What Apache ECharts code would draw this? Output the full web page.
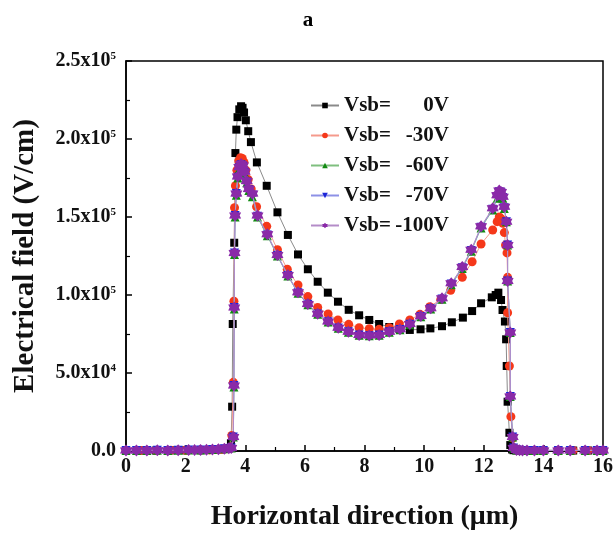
<!DOCTYPE html>
<html>
<head>
<meta charset="utf-8">
<script src="https://cdn.jsdelivr.net/npm/echarts@6/dist/echarts.min.js"></script>
<style>html,body{margin:0;padding:0;background:#fff}#c{width:616px;height:539px}</style>
</head>
<body>
<div id="c"></div>
<script>
// Values in units of 1e5 V/cm, x in µm
const seriesNames = ['Vsb=    0V', 'Vsb=  -30V', 'Vsb=  -60V', 'Vsb=  -70V', 'Vsb= -100V'];
const vsbValues = ['0V', '-30V', '-60V', '-70V', '-100V'];
const yTickMant = ['0.0', '5.0x10', '1.0x10', '1.5x10', '2.0x10', '2.5x10'];
const yTickExp = ['', '4', '5', '5', '5', '5'];

const vsb0 = [[0,0.003],[0.5,0.003],[1,0.003],[1.5,0.004],[2,0.004],[2.5,0.005],[2.8,0.006],[3.0,0.008],[3.2,0.01],[3.35,0.013],[3.45,0.018],[3.52,0.05],
 [3.56,0.284],[3.58,0.814],[3.63,1.335],[3.67,1.91],[3.7,2.06],[3.74,2.14],[3.8,2.19],[3.86,2.21],[3.91,2.2],[3.96,2.17],[4.02,2.12],[4.1,2.05],[4.19,1.98],
 [4.39,1.85],[4.72,1.70],[5.08,1.53],[5.43,1.385],[5.77,1.26],[6.1,1.165],[6.43,1.085],[6.77,1.015],[7.11,0.957],[7.47,0.905],[7.82,0.87],[8.16,0.84],
 [8.49,0.814],[8.83,0.795],[9.17,0.783],[9.52,0.776],[9.88,0.78],[10.21,0.786],[10.6,0.80],[10.93,0.825],[11.3,0.855],[11.61,0.897],[11.91,0.947],
 [12.27,0.985],[12.4,1.0],[12.49,1.015],[12.58,0.968],[12.63,0.904],[12.71,0.83],[12.75,0.716],[12.77,0.545],[12.8,0.316],[12.86,0.117],[12.89,0.038],
 [12.95,0.01],[13.0,0.005],[13.1,0.004],[13.25,0.003],[13.5,0.003],[14,0.003],[14.5,0.003],[15,0.003],[15.5,0.003],[16,0.003]];

const vsb30 = [[0,0.004],[0.5,0.004],[1,0.004],[1.5,0.005],[2,0.005],[2.5,0.006],[2.8,0.007],[3.0,0.009],[3.2,0.011],[3.35,0.014],[3.45,0.02],[3.55,0.1],
 [3.6,0.44],[3.62,0.96],[3.64,1.56],[3.67,1.70],[3.72,1.80],[3.78,1.86],[3.84,1.88],[3.9,1.875],[3.96,1.85],[4.02,1.80],[4.1,1.74],[4.2,1.68],
 [4.38,1.566],[4.72,1.44],[5.08,1.29],[5.41,1.165],[5.77,1.064],[6.1,0.99],[6.43,0.92],[6.78,0.878],[7.11,0.84],[7.47,0.812],[7.82,0.79],[8.16,0.784],
 [8.49,0.78],[8.83,0.79],[9.17,0.814],[9.52,0.84],[9.86,0.876],[10.19,0.925],[10.56,0.972],[10.89,1.03],[11.28,1.113],[11.61,1.213],[11.91,1.327],
 [12.3,1.417],[12.45,1.47],[12.52,1.50],[12.58,1.49],[12.64,1.46],[12.69,1.40],[12.73,1.32],[12.78,1.27],[12.8,1.113],[12.8,0.886],[12.86,0.545],
 [12.91,0.22],[12.97,0.083],[13.02,0.02],[13.1,0.006],[13.2,0.005],[13.35,0.004],[13.5,0.004],[14,0.004],[14.5,0.004],[15,0.004],[15.5,0.004],[16,0.004]];

const vsb60 = [[0,0.004],[0.35,0.004],[0.7,0.004],[1.05,0.005],[1.4,0.004],[1.75,0.005],[2.1,0.006],[2.5,0.007],[2.9,0.01],[3.3,0.015],[3.53,0.02],
 [3.6,0.09],[3.62,0.41],[3.63,0.91],[3.64,1.26],[3.66,1.50],[3.7,1.64],[3.75,1.75],[3.8,1.81],[3.86,1.83],[3.92,1.82],[3.98,1.78],[4.05,1.72],[4.12,1.67],
 [4.24,1.63],[4.41,1.50],[4.74,1.38],[5.08,1.25],[5.43,1.122],[5.77,1.012],[6.1,0.938],[6.43,0.877],[6.78,0.827],[7.12,0.787],[7.46,0.762],[7.82,0.742],
 [8.16,0.738],[8.49,0.742],[8.83,0.762],[9.19,0.777],[9.52,0.81],[9.89,0.86],[10.22,0.91],[10.6,0.972],[10.91,1.065],[11.28,1.17],[11.58,1.28],[11.91,1.43],
 [12.3,1.545],[12.45,1.62],[12.52,1.655],[12.58,1.65],[12.64,1.62],[12.69,1.555],[12.76,1.47],[12.8,1.32],[12.8,1.09],[12.89,0.76],[12.89,0.35],[12.97,0.09],
 [13.0,0.02],[13.1,0.006],[13.2,0.005],[13.3,0.004],[13.45,0.004],[13.7,0.004],[14.0,0.004],[14.5,0.004],[14.9,0.004],[15.4,0.004],[15.8,0.004],[16,0.004]];

const vsb70 = [[0,0.004],[0.35,0.004],[0.7,0.004],[1.05,0.005],[1.4,0.004],[1.75,0.005],[2.1,0.006],[2.5,0.007],[2.9,0.01],[3.3,0.015],[3.53,0.02],
 [3.6,0.09],[3.62,0.42],[3.63,0.92],[3.64,1.27],[3.66,1.51],[3.7,1.65],[3.75,1.755],[3.8,1.815],[3.86,1.835],[3.92,1.825],[3.98,1.785],[4.05,1.725],[4.12,1.675],
 [4.24,1.64],[4.41,1.505],[4.74,1.385],[5.08,1.253],[5.43,1.125],[5.77,1.015],[6.1,0.94],[6.43,0.879],[6.78,0.829],[7.12,0.789],[7.46,0.764],[7.82,0.743],
 [8.16,0.739],[8.49,0.743],[8.83,0.764],[9.19,0.779],[9.52,0.812],[9.89,0.862],[10.22,0.912],[10.6,0.975],[10.91,1.07],[11.28,1.175],[11.58,1.285],[11.91,1.435],
 [12.3,1.55],[12.45,1.63],[12.52,1.662],[12.58,1.655],[12.64,1.625],[12.69,1.56],[12.76,1.47],[12.8,1.32],[12.8,1.09],[12.89,0.76],[12.89,0.35],[12.97,0.09],
 [13.0,0.02],[13.1,0.006],[13.2,0.005],[13.3,0.004],[13.45,0.004],[13.7,0.004],[14.0,0.004],[14.5,0.004],[14.9,0.004],[15.4,0.004],[15.8,0.004],[16,0.004]];

const vsb100 = [[0,0.004],[0.35,0.004],[0.7,0.004],[1.05,0.005],[1.4,0.004],[1.75,0.005],[2.1,0.006],[2.3,0.006],[2.5,0.007],[2.7,0.008],[2.9,0.01],
 [3.1,0.012],[3.3,0.015],[3.45,0.018],[3.53,0.02],
 [3.6,0.09],[3.62,0.42],[3.63,0.92],[3.64,1.27],[3.66,1.51],[3.7,1.65],[3.75,1.76],[3.8,1.82],[3.86,1.84],[3.92,1.83],[3.98,1.79],[4.05,1.73],[4.12,1.68],
 [4.24,1.65],[4.41,1.51],[4.74,1.39],[5.08,1.256],[5.43,1.128],[5.77,1.017],[6.1,0.942],[6.43,0.88],[6.78,0.83],[7.12,0.79],[7.46,0.765],[7.82,0.744],
 [8.16,0.74],[8.49,0.744],[8.83,0.765],[9.19,0.78],[9.52,0.814],[9.89,0.865],[10.22,0.915],[10.6,0.979],[10.91,1.075],[11.28,1.18],[11.58,1.29],[11.91,1.44],
 [12.3,1.556],[12.45,1.64],[12.52,1.67],[12.58,1.66],[12.64,1.63],[12.69,1.566],[12.76,1.47],[12.8,1.32],[12.8,1.09],[12.89,0.76],[12.89,0.35],[12.97,0.09],
 [13.0,0.02],[13.1,0.006],[13.2,0.005],[13.3,0.004],[13.45,0.004],[13.7,0.004],[14.0,0.004],[14.5,0.004],[14.9,0.004],[15.4,0.004],[15.8,0.004],[16,0.004]];

const seriesData = [vsb0, vsb30, vsb60, vsb70, vsb100];
const markColors = ['#000000', '#f5381a', '#118a11', '#1c25d8', '#8a2aa8'];
const lineColors = ['#8a8a8a', '#f59a8c', '#7fbf7f', '#8d91e6', '#b48cc8'];
const hexagram = 'path://M0,-10 L3.4,-5.5 L8.66,-5 L6.6,0 L8.66,5 L3.4,5.5 L0,10 L-3.4,5.5 L-8.66,5 L-6.6,0 L-8.66,-5 L-3.4,-5.5 Z';
const symbols = ['rect', 'circle', 'triangle', 'path://M-10,-8 L10,-8 L0,9 Z', hexagram];
const symbolSizes = [8, 9, 9, 9, 12];

const FONT = '"Liberation Serif", "Times New Roman", serif';
const chart = echarts.init(document.getElementById('c'), null, {renderer: 'canvas'});

const option = {
  backgroundColor: '#fff',
  animation: false,
  title: {
    text: 'a', left: 'center', top: 5,
    textStyle: {fontFamily: FONT, fontWeight: 'bold', fontSize: 21, color: '#000'}
  },
  grid: {left: 126, right: 10, top: 61, bottom: 88, show: true, borderColor: '#000', borderWidth: 1.5},
  legend: {
    left: 305, top: 90, orient: 'vertical', itemGap: 9, itemWidth: 28, itemHeight: 7,
    data: seriesNames,
    formatter: function (name) {
      const i = seriesNames.indexOf(name);
      return '{a|Vsb=}{b|' + vsbValues[i] + '}';
    },
    textStyle: {
      fontFamily: FONT, fontWeight: 'bold', fontSize: 21, color: '#111',
      rich: {
        a: {fontFamily: FONT, fontWeight: 'bold', fontSize: 21, color: '#111', lineHeight: 24},
        b: {fontFamily: FONT, fontWeight: 'bold', fontSize: 21, color: '#111', lineHeight: 24, width: 58, align: 'right'}
      }
    }
  },
  xAxis: {
    type: 'value', min: 0, max: 16, interval: 2,
    name: 'Horizontal direction (\u03bcm)', nameLocation: 'middle', nameGap: 52,
    nameTextStyle: {fontFamily: FONT, fontWeight: 'bold', fontSize: 28, color: '#111'},
    axisLine: {lineStyle: {color: '#000', width: 1.5}},
    axisTick: {inside: true, length: 6, lineStyle: {color: '#000', width: 1.5}},
    minorTick: {show: true, splitNumber: 2, length: 4, lineStyle: {color: '#000', width: 1.2}},
    splitLine: {show: false},
    axisLabel: {margin: 6, fontFamily: FONT, fontWeight: 'bold', fontSize: 20, color: '#111'}
  },
  yAxis: {
    type: 'value', min: 0, max: 2.5, interval: 0.5,
    name: 'Electrical field (V/cm)', nameLocation: 'middle', nameGap: 86,
    nameTextStyle: {fontFamily: FONT, fontWeight: 'bold', fontSize: 29, color: '#111'},
    axisLine: {lineStyle: {color: '#000', width: 1.5}},
    axisTick: {inside: true, length: 6, lineStyle: {color: '#000', width: 1.5}},
    minorTick: {show: true, splitNumber: 2, length: 4, lineStyle: {color: '#000', width: 1.2}},
    splitLine: {show: false},
    axisLabel: {
      margin: 10,
      formatter: function (v) {
        const i = Math.round(v / 0.5);
        if (!yTickExp[i]) return '{m|' + yTickMant[i] + '}';
        return '{m|' + yTickMant[i] + '}{e|' + yTickExp[i] + '}';
      },
      rich: {
        m: {fontFamily: FONT, fontWeight: 'bold', fontSize: 20, color: '#111'},
        e: {fontFamily: FONT, fontWeight: 'bold', fontSize: 11, color: '#111', verticalAlign: 'top', padding: [0, 0, 10, 0]}
      }
    }
  },
  series: seriesData.map(function (d, i) {
    return {
      name: seriesNames[i], type: 'line', data: d,
      symbol: symbols[i], symbolSize: symbolSizes[i], showSymbol: true,
      itemStyle: {color: markColors[i]},
      lineStyle: {color: lineColors[i], width: 1},
      z: 2 + i
    };
  })
};
chart.setOption(option);
</script>
</body>
</html>
